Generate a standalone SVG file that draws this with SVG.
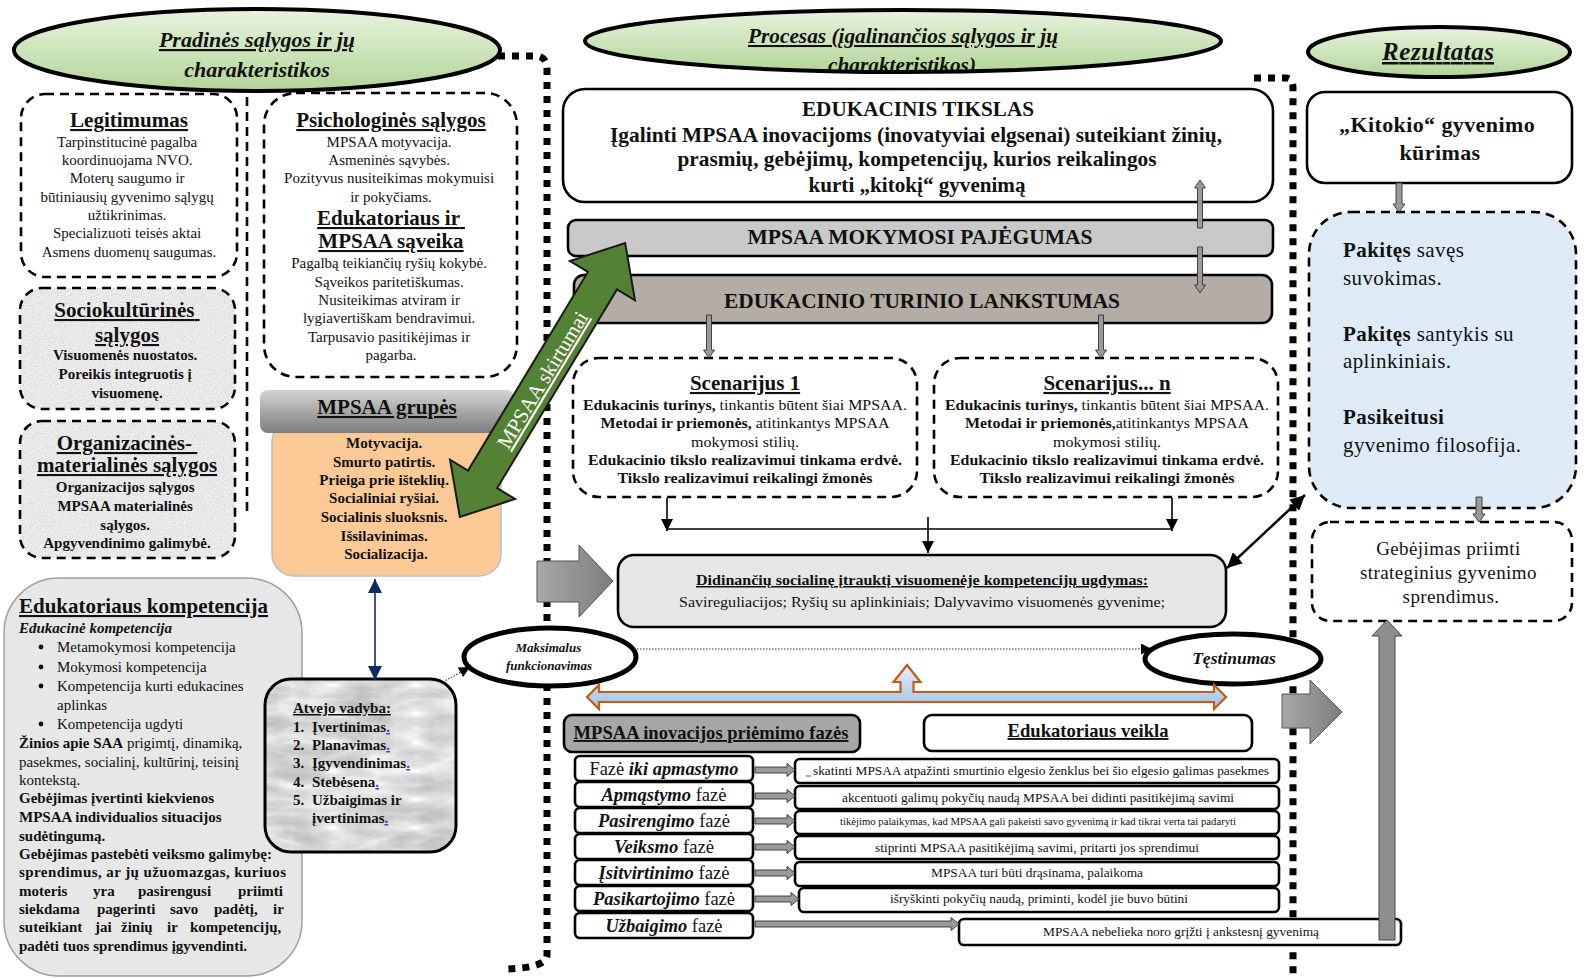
<svg xmlns="http://www.w3.org/2000/svg" width="1586" height="978" viewBox="0 0 1586 978">
<defs>
  <style>
    .s { font-family: "Liberation Serif", "Times New Roman", serif; fill: #111; }
    .b { font-weight: bold; }
    .i { font-style: italic; }
    .u { text-decoration: underline; }
    .m { text-anchor: middle; }
    .dash { stroke: #000; stroke-width: 2.6; stroke-dasharray: 9 6; }
    .box { stroke: #000; stroke-width: 2.6; }
    .sep { fill: none; stroke: #000; stroke-width: 7; stroke-dasharray: 7 7; }
    .garr { fill: #9a9a9a; stroke: #333; stroke-width: 0.9; }
    .con { fill: none; stroke: #000; stroke-width: 1.6; }
    .dot { fill: none; stroke: #333; stroke-width: 1.1; stroke-dasharray: 1.5 1.5; }
  </style>
  <linearGradient id="gEll" x1="0" y1="0" x2="0" y2="1">
    <stop offset="0" stop-color="#e8f3df"/>
    <stop offset="1" stop-color="#b3d598"/>
  </linearGradient>
  <linearGradient id="gHdr" x1="0" y1="0" x2="0" y2="1">
    <stop offset="0" stop-color="#d4d4d4"/>
    <stop offset="1" stop-color="#7c7c7c"/>
  </linearGradient>
  <linearGradient id="gBig" x1="0" y1="0" x2="1" y2="0">
    <stop offset="0" stop-color="#a8a8a8"/>
    <stop offset="1" stop-color="#7d7d7d"/>
  </linearGradient>
  <linearGradient id="gBlue" x1="0" y1="0" x2="0" y2="1">
    <stop offset="0" stop-color="#e6eff9"/>
    <stop offset="1" stop-color="#9dc2e5"/>
  </linearGradient>
  <filter id="granite" x="0" y="0" width="1" height="1" color-interpolation-filters="sRGB">
    <feTurbulence type="fractalNoise" baseFrequency="0.9" numOctaves="2" seed="4"/>
    <feColorMatrix type="matrix" values="0.12 0.12 0.12 0 0.73  0.12 0.12 0.12 0 0.73  0.12 0.12 0.12 0 0.73  0 0 0 0 1"/>
    <feComposite in2="SourceGraphic" operator="in"/>
  </filter>
  <filter id="marble" x="0" y="0" width="1" height="1" color-interpolation-filters="sRGB">
    <feTurbulence type="turbulence" baseFrequency="0.012 0.035" numOctaves="4" seed="9"/>
    <feColorMatrix type="matrix" values="-0.18 -0.18 -0.18 0 1.03  -0.18 -0.18 -0.18 0 1.03  -0.18 -0.18 -0.18 0 1.03  0 0 0 0 1"/>
    <feComposite in2="SourceGraphic" operator="in"/>
  </filter>
  <clipPath id="clipProc"><ellipse cx="903" cy="41" rx="316" ry="29.5"/></clipPath>
  <marker id="ah" viewBox="0 0 12 12" refX="12" refY="6" markerWidth="12" markerHeight="12" markerUnits="userSpaceOnUse" orient="auto-start-reverse">
    <path d="M0,0 L12,6 L0,12 z" fill="#000"/>
  </marker>
  <marker id="ahBig" viewBox="0 0 14 14" refX="14" refY="7" markerWidth="15" markerHeight="15" markerUnits="userSpaceOnUse" orient="auto-start-reverse">
    <path d="M0,0 L14,7 L0,14 z" fill="#000"/>
  </marker>
  <marker id="ahNavy" viewBox="0 0 14 14" refX="14" refY="7" markerWidth="15" markerHeight="14" markerUnits="userSpaceOnUse" orient="auto-start-reverse">
    <path d="M0,0 L14,7 L0,14 z" fill="#0e2a66"/>
  </marker>
  <marker id="ahSm" viewBox="0 0 10 10" refX="10" refY="5" markerWidth="11" markerHeight="11" markerUnits="userSpaceOnUse" orient="auto">
    <path d="M0,0 L10,5 L0,10 z" fill="#000"/>
  </marker>
</defs>

<rect x="0" y="0" width="1586" height="978" fill="#fff"/>

<!-- separators -->
<g id="separators">
  <path class="sep" d="M498,56 L535,56 Q547,56 547,70 L547,955 Q547,968 505,969"/>
  <path class="sep" d="M1254,78 L1286,78 Q1293,78 1293,88 L1293,978"/>
  <path d="M247,97 L247,512" fill="none" class="dash"/>
</g>

<!-- ===== LEFT COLUMN ===== -->
<g id="title-pradines">
  <ellipse cx="257" cy="50" rx="243" ry="41" fill="url(#gEll)" stroke="#000" stroke-width="4"/>
  <text class="s b i u m" x="257" y="47" font-size="22">Pradinės sąlygos ir jų</text>
  <text class="s b i m" x="257" y="77" font-size="22">charakteristikos</text>
</g>

<g id="legitimumas">
  <rect x="21" y="94" width="216" height="183" rx="24" fill="#fff" class="dash"/>
  <text class="s b u m" x="129" y="127" font-size="21">Legitimumas</text>
  <text class="s m" font-size="15">
    <tspan x="129" y="147">Tarpinstitucinė pagalba</tspan>
    <tspan x="129" y="165">koordinuojama NVO.</tspan>
    <tspan x="129" y="183">Moterų saugumo ir</tspan>
    <tspan x="129" y="202">būtiniausių gyvenimo sąlygų</tspan>
    <tspan x="129" y="220">užtikrinimas.</tspan>
    <tspan x="129" y="238">Specializuoti teisės aktai</tspan>
    <tspan x="129" y="257">Asmens duomenų saugumas.</tspan>
  </text>
</g>

<g id="psichologines">
  <rect x="264" y="93" width="253" height="284" rx="32" fill="#fff" class="dash"/>
  <text class="s b u m" x="391" y="127" font-size="21">Psichologinės sąlygos</text>
  <text class="s m" font-size="15">
    <tspan x="391" y="147">MPSAA motyvacija.</tspan>
    <tspan x="391" y="165">Asmeninės sąvybės.</tspan>
    <tspan x="391" y="183">Pozityvus nusiteikimas mokymuisi</tspan>
    <tspan x="391" y="202">ir pokyčiams.</tspan>
  </text>
  <text class="s b u m" font-size="21">
    <tspan x="391" y="225">Edukatoriaus ir</tspan>
    <tspan x="391" y="248">MPSAA sąveika</tspan>
  </text>
  <text class="s m" font-size="15">
    <tspan x="391" y="268">Pagalbą teikiančių ryšių kokybė.</tspan>
    <tspan x="391" y="287">Sąveikos paritetiškumas.</tspan>
    <tspan x="391" y="305">Nusiteikimas atviram ir</tspan>
    <tspan x="391" y="323">lygiavertiškam bendravimui.</tspan>
    <tspan x="391" y="342">Tarpusavio pasitikėjimas ir</tspan>
    <tspan x="391" y="360">pagarba.</tspan>
  </text>
</g>

<g id="sociokulturines">
  <rect x="20" y="288" width="215" height="121" rx="22" fill="#ddd" filter="url(#granite)"/>
  <rect x="20" y="288" width="215" height="121" rx="22" fill="none" class="dash"/>
  <text class="s b u m" font-size="21">
    <tspan x="127" y="317">Sociokultūrinės</tspan>
    <tspan x="127" y="342">sąlygos</tspan>
  </text>
  <text class="s b m" font-size="15">
    <tspan x="127" y="360">Visuomenės nuostatos.</tspan>
    <tspan x="127" y="379">Poreikis integruotis į</tspan>
    <tspan x="127" y="398">visuomenę.</tspan>
  </text>
</g>

<g id="organizacines">
  <rect x="20" y="421" width="215" height="137" rx="22" fill="#ddd" filter="url(#granite)"/>
  <rect x="20" y="421" width="215" height="137" rx="22" fill="none" class="dash"/>
  <text class="s b u m" font-size="21">
    <tspan x="127" y="450">Organizacinės-</tspan>
    <tspan x="127" y="472">materialinės sąlygos</tspan>
  </text>
  <text class="s b m" font-size="15">
    <tspan x="127" y="492">Organizacijos sąlygos</tspan>
    <tspan x="127" y="511">MPSAA materialinės</tspan>
    <tspan x="127" y="530">sąlygos.</tspan>
    <tspan x="127" y="548">Apgyvendinimo galimybė.</tspan>
  </text>
</g>

<g id="mpsaa-grupes">
  <rect x="272" y="420" width="229" height="156" rx="22" fill="#fbc995" stroke="#bdbdbd" stroke-width="1.5"/>
  <rect x="260" y="390" width="254" height="43" rx="8" fill="url(#gHdr)"/>
  <text class="s b u m" x="387" y="414" font-size="21">MPSAA grupės</text>
  <text class="s b m" font-size="15">
    <tspan x="386" y="448">Motyvacija.</tspan>
    <tspan x="386" y="467">Smurto patirtis.</tspan>
    <tspan x="386" y="485">Prieiga prie išteklių.</tspan>
    <tspan x="386" y="503">Socialiniai ryšiai.</tspan>
    <tspan x="386" y="522">Socialinis sluoksnis.</tspan>
    <tspan x="386" y="541">Išsilavinimas.</tspan>
    <tspan x="386" y="559">Socializacija.</tspan>
  </text>
</g>

<g id="edukatoriaus-kompetencija">
  <rect x="4" y="578" width="298" height="398" rx="55" fill="#e7e7e7" stroke="#a0a0a0" stroke-width="1.5"/>
  <text class="s b u" x="19" y="613" font-size="21">Edukatoriaus kompetencija</text>
  <text class="s b i" x="19" y="633" font-size="15">Edukacinė kompetencija</text>
  <g fill="#111">
    <circle cx="41" cy="647" r="2.4"/>
    <circle cx="41" cy="667" r="2.4"/>
    <circle cx="41" cy="686" r="2.4"/>
    <circle cx="41" cy="724" r="2.4"/>
  </g>
  <text class="s" font-size="15">
    <tspan x="57" y="652">Metamokymosi kompetencija</tspan>
    <tspan x="57" y="672">Mokymosi kompetencija</tspan>
    <tspan x="57" y="691">Kompetencija kurti edukacines</tspan>
    <tspan x="57" y="710">aplinkas</tspan>
    <tspan x="57" y="729">Kompetencija ugdyti</tspan>
  </text>
  <text class="s" font-size="15">
    <tspan x="19" y="748"><tspan font-weight="bold">Žinios apie SAA</tspan> prigimtį, dinamiką,</tspan>
    <tspan x="19" y="767">pasekmes, socialinį, kultūrinį, teisinį</tspan>
    <tspan x="19" y="785">kontekstą.</tspan>
  </text>
  <text class="s b" font-size="15">
    <tspan x="19" y="803">Gebėjimas įvertinti kiekvienos</tspan>
    <tspan x="19" y="822">MPSAA individualios situacijos</tspan>
    <tspan x="19" y="841">sudėtingumą.</tspan>
    <tspan x="19" y="859">Gebėjimas pastebėti veiksmo galimybę:</tspan>
  </text>
  <text class="s b" x="19" y="877" font-size="15" textLength="267">sprendimus, ar jų užuomazgas, kuriuos</text>
  <text class="s b" y="896" font-size="15"><tspan x="19">moteris</tspan><tspan x="93">yra</tspan><tspan x="138">pasirengusi</tspan><tspan x="238">priimti</tspan></text>
  <text class="s b" y="914" font-size="15"><tspan x="19">siekdama</tspan><tspan x="97">pagerinti</tspan><tspan x="170">savo</tspan><tspan x="214">padėtį,</tspan><tspan x="273">ir</tspan></text>
  <text class="s b" y="932" font-size="15"><tspan x="19">suteikiant</tspan><tspan x="95">jai</tspan><tspan x="121">žinių</tspan><tspan x="167">ir</tspan><tspan x="190">kompetencijų,</tspan></text>
  <text class="s b" x="19" y="951" font-size="15">padėti tuos sprendimus įgyvendinti.</text>
</g>

<g id="atvejo-vadyba">
  <rect x="265" y="679" width="191" height="173" rx="26" fill="#ccc" filter="url(#marble)"/>
  <rect x="265" y="679" width="191" height="173" rx="26" fill="none" stroke="#000" stroke-width="3"/>
  <text class="s b u" x="293" y="713" font-size="15">Atvejo vadyba:</text>
  <text class="s b" font-size="15">
    <tspan x="293" y="732">1.</tspan><tspan x="312" y="732">Įvertinimas<tspan fill="#7030a0" text-decoration="underline">.</tspan></tspan>
    <tspan x="293" y="750">2.</tspan><tspan x="312" y="750">Planavimas<tspan fill="#7030a0" text-decoration="underline">.</tspan></tspan>
    <tspan x="293" y="768">3.</tspan><tspan x="312" y="768">Įgyvendinimas<tspan fill="#7030a0" text-decoration="underline">.</tspan></tspan>
    <tspan x="293" y="787">4.</tspan><tspan x="312" y="787">Stebėsena<tspan fill="#7030a0" text-decoration="underline">.</tspan></tspan>
    <tspan x="293" y="805">5.</tspan><tspan x="312" y="805">Užbaigimas ir</tspan>
    <tspan x="312" y="823">įvertinimas<tspan fill="#7030a0" text-decoration="underline">.</tspan></tspan>
  </text>
</g>

<!-- ===== MIDDLE COLUMN ===== -->
<g id="title-procesas">
  <ellipse cx="903" cy="41" rx="318" ry="31" fill="url(#gEll)" stroke="#000" stroke-width="4"/>
  <g clip-path="url(#clipProc)">
    <text class="s b i u m" x="903" y="43" font-size="20.5" textLength="310" lengthAdjust="spacingAndGlyphs">Procesas (įgalinančios sąlygos ir jų</text>
    <text class="s b i m" x="902" y="72" font-size="20.5" textLength="148" lengthAdjust="spacingAndGlyphs">charakteristikos)</text>
  </g>
</g>

<g id="edukacinis-tikslas">
  <rect x="563" y="89" width="710" height="113" rx="22" fill="#fff" class="box"/>
  <text class="s b m" x="918" y="116" font-size="21" textLength="232" lengthAdjust="spacingAndGlyphs">EDUKACINIS TIKSLAS</text>
  <text class="s b m" x="916" y="142" font-size="21" textLength="612" lengthAdjust="spacingAndGlyphs">Įgalinti MPSAA inovacijoms (inovatyviai elgsenai) suteikiant žinių,</text>
  <text class="s b m" x="917" y="166" font-size="21" textLength="479" lengthAdjust="spacingAndGlyphs">prasmių, gebėjimų, kompetencijų, kurios reikalingos</text>
  <text class="s b m" x="917" y="192" font-size="21" textLength="217" lengthAdjust="spacingAndGlyphs">kurti „kitokį“ gyvenimą</text>
</g>

<g id="mokymosi-pajegumas">
  <rect x="568" y="220" width="705" height="36" rx="8" fill="#c9c9c9" class="box"/>
  <text class="s b m" x="920" y="244" font-size="20" textLength="345" lengthAdjust="spacingAndGlyphs">MPSAA MOKYMOSI PAJĖGUMAS</text>
</g>

<g id="turinio-lankstumas">
  <rect x="574" y="275" width="698" height="48" rx="10" fill="#b4ada5" class="box"/>
  <text class="s b m" x="922" y="308" font-size="20" textLength="396" lengthAdjust="spacingAndGlyphs">EDUKACINIO TURINIO LANKSTUMAS</text>
</g>

<g id="scenarijus-1">
  <rect x="573" y="358" width="344" height="139" rx="26" fill="#fff" class="dash"/>
  <text class="s b u m" x="745" y="390" font-size="21">Scenarijus 1</text>
  <text class="s m" x="745" y="410" font-size="15.5" textLength="324" lengthAdjust="spacingAndGlyphs"><tspan font-weight="bold">Edukacinis turinys,</tspan> tinkantis būtent šiai MPSAA.</text>
  <text class="s m" x="745" y="428" font-size="15.5" textLength="289" lengthAdjust="spacingAndGlyphs"><tspan font-weight="bold">Metodai ir priemonės,</tspan> atitinkantys MPSAA</text>
  <text class="s m" x="745" y="447" font-size="15.5" textLength="108" lengthAdjust="spacingAndGlyphs">mokymosi stilių.</text>
  <text class="s b m" x="745" y="465" font-size="15.5" textLength="314" lengthAdjust="spacingAndGlyphs">Edukacinio tikslo realizavimui tinkama erdvė.</text>
  <text class="s b m" x="745" y="483" font-size="15.5" textLength="255" lengthAdjust="spacingAndGlyphs">Tikslo realizavimui reikalingi žmonės</text>
</g>

<g id="scenarijus-n">
  <rect x="934" y="358" width="344" height="139" rx="26" fill="#fff" class="dash"/>
  <text class="s b u m" x="1107" y="390" font-size="21">Scenarijus... n</text>
  <text class="s m" x="1107" y="410" font-size="15.5" textLength="324" lengthAdjust="spacingAndGlyphs"><tspan font-weight="bold">Edukacinis turinys,</tspan> tinkantis būtent šiai MPSAA.</text>
  <text class="s m" x="1107" y="428" font-size="15.5" textLength="284" lengthAdjust="spacingAndGlyphs"><tspan font-weight="bold">Metodai ir priemonės,</tspan>atitinkantys MPSAA</text>
  <text class="s m" x="1107" y="447" font-size="15.5" textLength="108" lengthAdjust="spacingAndGlyphs">mokymosi stilių.</text>
  <text class="s b m" x="1107" y="465" font-size="15.5" textLength="314" lengthAdjust="spacingAndGlyphs">Edukacinio tikslo realizavimui tinkama erdvė.</text>
  <text class="s b m" x="1107" y="483" font-size="15.5" textLength="255" lengthAdjust="spacingAndGlyphs">Tikslo realizavimui reikalingi žmonės</text>
</g>

<g id="didinanciu">
  <rect x="618" y="555" width="608" height="72" rx="16" fill="#e6e6e6" class="box"/>
  <text class="s b u m" x="922" y="585" font-size="15" textLength="452" lengthAdjust="spacingAndGlyphs">Didinančių socialinę įtrauktį visuomenėje kompetencijų ugdymas:</text>
  <text class="s m" x="922" y="607" font-size="15" textLength="486" lengthAdjust="spacingAndGlyphs">Savireguliacijos; Ryšių su aplinkiniais; Dalyvavimo visuomenės gyvenime;</text>
</g>

<g id="maksimalus">
  <ellipse cx="550" cy="657" rx="86" ry="29" fill="#fff" stroke="#000" stroke-width="5"/>
  <text class="s b i m" font-size="13">
    <tspan x="550" y="652">Maksimalus</tspan>
    <tspan x="549" y="670">funkcionavimas</tspan>
  </text>
</g>

<g id="testinumas">
  <ellipse cx="1233" cy="659" rx="88" ry="25" fill="#fff" stroke="#000" stroke-width="5"/>
  <text class="s b i m" x="1234" y="664" font-size="17.5">Tęstinumas</text>
</g>

<g id="fazes-header">
  <rect x="564" y="715" width="296" height="37" rx="8" fill="#a6a6a6" class="box"/>
  <text class="s b u m" x="711" y="739" font-size="19" textLength="275" lengthAdjust="spacingAndGlyphs">MPSAA inovacijos priėmimo fazės</text>
</g>

<g id="edukatoriaus-veikla">
  <rect x="924" y="715" width="328" height="36" rx="8" fill="#fff" class="box"/>
  <text class="s b u m" x="1088" y="737" font-size="19" textLength="161" lengthAdjust="spacingAndGlyphs">Edukatoriaus veikla</text>
</g>

<g id="fazes">
  <g id="faze-1">
    <rect x="575" y="756" width="178" height="25" rx="5" fill="#fff" class="box"/>
    <text class="s m" x="664" y="775" font-size="19" textLength="149" lengthAdjust="spacingAndGlyphs">Fazė <tspan font-weight="bold" font-style="italic">iki apmastymo</tspan></text>
  </g>
  <g id="faze-2">
    <rect x="575" y="782" width="178" height="25" rx="5" fill="#fff" class="box"/>
    <text class="s m" x="664" y="801" font-size="19" textLength="125" lengthAdjust="spacingAndGlyphs"><tspan font-weight="bold" font-style="italic">Apmąstymo</tspan> fazė</text>
  </g>
  <g id="faze-3">
    <rect x="575" y="808" width="178" height="25" rx="5" fill="#fff" class="box"/>
    <text class="s m" x="664" y="827" font-size="19" textLength="132" lengthAdjust="spacingAndGlyphs"><tspan font-weight="bold" font-style="italic">Pasirengimo</tspan> fazė</text>
  </g>
  <g id="faze-4">
    <rect x="575" y="834" width="178" height="25" rx="5" fill="#fff" class="box"/>
    <text class="s m" x="664" y="853" font-size="19" textLength="100" lengthAdjust="spacingAndGlyphs"><tspan font-weight="bold" font-style="italic">Veiksmo</tspan> fazė</text>
  </g>
  <g id="faze-5">
    <rect x="575" y="860" width="178" height="25" rx="5" fill="#fff" class="box"/>
    <text class="s m" x="664" y="879" font-size="19" textLength="131" lengthAdjust="spacingAndGlyphs"><tspan font-weight="bold" font-style="italic">Įsitvirtinimo</tspan> fazė</text>
  </g>
  <g id="faze-6">
    <rect x="575" y="886" width="178" height="25" rx="5" fill="#fff" class="box"/>
    <text class="s m" x="664" y="905" font-size="19" textLength="142" lengthAdjust="spacingAndGlyphs"><tspan font-weight="bold" font-style="italic">Pasikartojimo</tspan> fazė</text>
  </g>
  <g id="faze-7">
    <rect x="575" y="913" width="178" height="25" rx="5" fill="#fff" class="box"/>
    <text class="s m" x="664" y="932" font-size="19" textLength="117" lengthAdjust="spacingAndGlyphs"><tspan font-weight="bold" font-style="italic">Užbaigimo</tspan> fazė</text>
  </g>
</g>

<g id="veiklos">
  <g id="veikla-1">
    <rect x="795" y="759" width="484" height="24" rx="5" fill="#fff" class="box"/>
    <line x1="806" y1="776" x2="811" y2="776" stroke="#7030a0" stroke-width="1"/>
    <text class="s m" x="1041" y="775" font-size="12.5" textLength="456" lengthAdjust="spacingAndGlyphs">skatinti MPSAA atpažinti smurtinio elgesio ženklus bei šio elgesio galimas pasekmes</text>
  </g>
  <g id="veikla-2">
    <rect x="795" y="786" width="484" height="23" rx="5" fill="#fff" class="box"/>
    <text class="s m" x="1038" y="802" font-size="12.5" textLength="392" lengthAdjust="spacingAndGlyphs">akcentuoti galimų pokyčių naudą MPSAA bei didinti pasitikėjimą savimi</text>
  </g>
  <g id="veikla-3">
    <rect x="795" y="811" width="484" height="23" rx="5" fill="#fff" class="box"/>
    <text class="s m" x="1038" y="825" font-size="10" textLength="396" lengthAdjust="spacingAndGlyphs">tikėjimo palaikymas, kad MPSAA gali pakeisti savo gyvenimą ir kad tikrai verta tai padaryti</text>
  </g>
  <g id="veikla-4">
    <rect x="795" y="836" width="484" height="23" rx="5" fill="#fff" class="box"/>
    <text class="s m" x="1037" y="852" font-size="12.5" textLength="324" lengthAdjust="spacingAndGlyphs">stiprinti MPSAA pasitikėjimą savimi, pritarti jos sprendimui</text>
  </g>
  <g id="veikla-5">
    <rect x="795" y="862" width="484" height="24" rx="5" fill="#fff" class="box"/>
    <text class="s m" x="1037" y="877" font-size="12.5" textLength="212" lengthAdjust="spacingAndGlyphs">MPSAA turi būti drąsinama, palaikoma</text>
  </g>
  <g id="veikla-6">
    <rect x="799" y="888" width="480" height="24" rx="5" fill="#fff" class="box"/>
    <text class="s m" x="1039" y="903" font-size="12.5" textLength="298" lengthAdjust="spacingAndGlyphs">išryškinti pokyčių naudą, priminti, kodėl jie buvo būtini</text>
  </g>
  <g id="veikla-7">
    <rect x="959" y="919" width="442" height="26" rx="5" fill="#fff" class="box"/>
    <text class="s m" x="1181" y="936" font-size="12.5" textLength="276" lengthAdjust="spacingAndGlyphs">MPSAA nebelieka noro grįžti į ankstesnį gyvenimą</text>
  </g>
</g>

<!-- ===== RIGHT COLUMN ===== -->
<g id="title-rezultatas">
  <ellipse cx="1439" cy="52" rx="131" ry="25" fill="url(#gEll)" stroke="#000" stroke-width="4"/>
  <text class="s b i u m" x="1438" y="60" font-size="25" textLength="112">Rezultatas</text>
</g>

<g id="kitokio">
  <rect x="1307" y="92" width="265" height="91" rx="18" fill="#fff" class="box"/>
  <text class="s b m" font-size="22" letter-spacing="0.4">
    <tspan x="1440" y="132">„Kitokio“ gyvenimo</tspan>
    <tspan x="1440" y="160">kūrimas</tspan>
  </text>
</g>

<g id="pakites">
  <rect x="1309" y="212" width="267" height="296" rx="42" fill="#deebf7" class="dash"/>
  <text class="s" font-size="21" letter-spacing="0.4">
    <tspan x="1343" y="257"><tspan font-weight="bold">Pakitęs</tspan> savęs</tspan>
    <tspan x="1343" y="285">suvokimas.</tspan>
    <tspan x="1343" y="341"><tspan font-weight="bold">Pakitęs</tspan> santykis su</tspan>
    <tspan x="1343" y="368">aplinkiniais.</tspan>
    <tspan x="1343" y="424" font-weight="bold">Pasikeitusi</tspan>
    <tspan x="1343" y="452">gyvenimo filosofija.</tspan>
  </text>
</g>

<g id="gebejimas">
  <rect x="1312" y="522" width="260" height="99" rx="18" fill="#fff" class="dash"/>
  <text class="s m" font-size="19" letter-spacing="0.4">
    <tspan x="1451" y="555">Gebėjimas priimti</tspan>
    <tspan x="1451" y="579">strateginius gyvenimo</tspan>
    <tspan x="1451" y="603">sprendimus.</tspan>
  </text>
</g>

<!-- ===== CONNECTORS ===== -->
<g id="connectors">
  <!-- small grey block arrows -->
  <path class="garr" d="M1200,180 L1205.5,188 L1202.5,188 L1202.5,228 L1197.5,228 L1197.5,188 L1194.5,188 Z"/>
  <path class="garr" d="M1200,293 L1205.5,285 L1202.5,285 L1202.5,247 L1197.5,247 L1197.5,285 L1194.5,285 Z"/>
  <path class="garr" d="M709,358 L714.5,350 L711.5,350 L711.5,315 L706.5,315 L706.5,350 L703.5,350 Z"/>
  <path class="garr" d="M1101,358 L1106.5,350 L1103.5,350 L1103.5,315 L1098.5,315 L1098.5,350 L1095.5,350 Z"/>
  <path class="garr" d="M1399,212 L1405,204 L1402,204 L1402,183 L1396,183 L1396,204 L1393,204 Z"/>
  <path class="garr" d="M1479,522 L1485,514 L1482,514 L1482,497 L1476,497 L1476,514 L1473,514 Z"/>

  <!-- scenario to didinanciu -->
  <line class="con" x1="667" y1="498" x2="667" y2="531" marker-end="url(#ah)"/>
  <line class="con" x1="1172" y1="498" x2="1172" y2="531" marker-end="url(#ah)"/>
  <line class="con" x1="667" y1="529" x2="1172" y2="529"/>
  <line class="con" x1="928" y1="517" x2="928" y2="553" marker-end="url(#ah)"/>

  <!-- grupes <-> atvejo -->
  <line x1="375" y1="579" x2="375" y2="680" stroke="#0e2a66" stroke-width="1.6" marker-start="url(#ahNavy)" marker-end="url(#ahNavy)"/>

  <!-- didinanciu <-> pakites -->
  <line x1="1227" y1="568" x2="1305" y2="495" stroke="#000" stroke-width="2.5" marker-start="url(#ahBig)" marker-end="url(#ahBig)"/>

  <!-- dotted -->
  <line class="dot" x1="443" y1="682" x2="470" y2="667" marker-end="url(#ahSm)"/>
  <line class="dot" x1="637" y1="649" x2="1152" y2="649" marker-end="url(#ahSm)"/>

  <!-- big grey arrows -->
  <path d="M537,561 L579,561 L579,545 L613,581 L579,617 L579,602 L537,602 Z" fill="url(#gBig)" stroke="#555" stroke-width="1"/>
  <path d="M1282,694 L1310,694 L1310,680 L1342,712 L1310,744 L1310,728 L1282,728 Z" fill="url(#gBig)" stroke="#555" stroke-width="1"/>
  <path d="M1387,620 L1402,636 L1395,636 L1395,940 L1379,940 L1379,636 L1372,636 Z" fill="#8e8e8e" stroke="#444" stroke-width="1"/>

  <!-- orange/blue double arrow -->
  <path d="M587,697 L599,685 L599,692 L900.5,692 L900.5,682 L893.5,682 L907,665 L920.5,682 L913.5,682 L913.5,692 L1214,692 L1214,685 L1226,697 L1214,709 L1214,702 L599,702 L599,709 Z" fill="url(#gBlue)" stroke="#c55a11" stroke-width="2.2"/>

  <!-- phase arrows -->
  <path class="garr" d="M755,767 L787,767 L787,763.5 L795,770 L787,776.5 L787,773 L755,773 Z"/>
  <path class="garr" d="M755,793 L787,793 L787,789.5 L795,796 L787,802.5 L787,799 L755,799 Z"/>
  <path class="garr" d="M755,818 L787,818 L787,814.5 L795,821 L787,827.5 L787,824 L755,824 Z"/>
  <path class="garr" d="M755,844 L787,844 L787,840.5 L795,847 L787,853.5 L787,850 L755,850 Z"/>
  <path class="garr" d="M755,870 L787,870 L787,866.5 L795,873 L787,879.5 L787,876 L755,876 Z"/>
  <path class="garr" d="M755,896 L791,896 L791,892.5 L799,899 L791,905.5 L791,902 L755,902 Z"/>
  <path class="garr" d="M755,921 L951,921 L951,917.5 L959,924 L951,930.5 L951,927 L755,927 Z"/>

  <!-- green MPSAA skirtumai arrow -->
  <g id="skirtumai" transform="translate(542.5,380) rotate(-58.9)">
    <polygon points="-160,0 -116,-38 -116,-17 116,-17 116,-38 160,0 116,38 116,17 -116,17 -116,38" fill="#548235" stroke="#1a1a1a" stroke-width="2"/>
    <text class="m u" x="0" y="7" font-size="21" fill="#fff" font-family="Liberation Serif, serif">MPSAA skirtumai</text>
  </g>
</g>
</svg>
